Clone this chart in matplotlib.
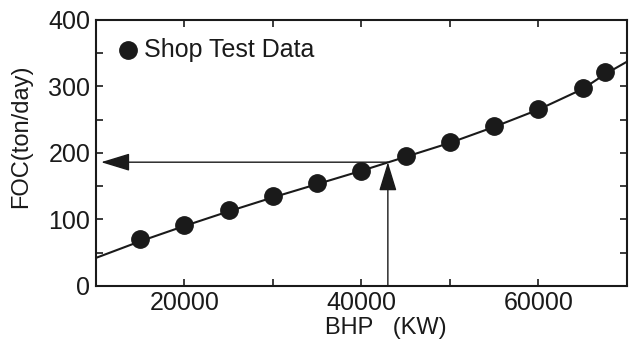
import matplotlib.pyplot as plt

plt.rcParams['font.family'] = ['Liberation Sans', 'DejaVu Sans']

# shop test data
bhp = [15000, 20000, 25000, 30000, 35000, 40000, 45000, 50000, 55000, 60000, 65000, 67500]
foc = [70, 92, 114, 135, 154, 173, 196, 216, 241, 266, 298, 321]

# fitted curve
curve_x = [10000, 15000, 20000, 25000, 30000, 35000, 40000, 45000, 50000, 55000, 60000, 65000, 67500, 70000]
curve_y = [42, 67, 90, 112, 133, 153, 173, 194, 215, 239, 265, 296, 318, 337]

# operating point read-out
op_bhp = 43000
op_foc = 186
arrow_tip_x = 10600

FS = 18
INK = '#1a1a1a'

fig = plt.figure(figsize=(6.3, 3.42), dpi=100)
ax = fig.add_axes([0.152, 0.164, 0.843, 0.778])

ax.plot(curve_x, curve_y, color=INK, lw=1.5, zorder=2)
ax.plot(bhp, foc, 'o', color=INK, markersize=12.5, zorder=3)

# legend by hand
ax.plot([13600], [354], 'o', color=INK, markersize=12.5)
ax.text(15400, 354, 'Shop Test Data', fontsize=FS, va='center', ha='left', color=INK)

arrow = dict(arrowstyle='-|>,head_length=1.8,head_width=0.55', lw=1,
             color=INK, shrinkA=0, shrinkB=0)
ax.annotate('', xy=(arrow_tip_x, op_foc), xytext=(op_bhp, op_foc), arrowprops=arrow)
ax.annotate('', xy=(op_bhp, op_foc), xytext=(op_bhp, 0), arrowprops=arrow)

ax.set_xlim(10000, 70000)
ax.set_ylim(0, 400)
ax.set_xticks(range(10000, 70001, 10000))
ax.set_xticklabels(['' if v % 20000 else str(v) for v in range(10000, 70001, 10000)])
ax.set_yticks(range(0, 401, 50))
ax.set_yticklabels(['' if v % 100 else str(v) for v in range(0, 401, 50)])
ax.tick_params(direction='in', length=5, width=1.2, top=True, right=True,
               labelsize=FS, colors=INK, pad=4)
for s in ax.spines.values():
    s.set_linewidth(1.5)
    s.set_color(INK)

ax.set_ylabel('FOC(ton/day)', fontsize=17, color=INK)
ax.yaxis.set_label_coords(-0.119, 0.562)
ax.set_xlabel('BHP   (KW)', fontsize=17, color=INK)
ax.xaxis.set_label_coords(0.546, -0.115)

fig.savefig('out.png', dpi=100)
